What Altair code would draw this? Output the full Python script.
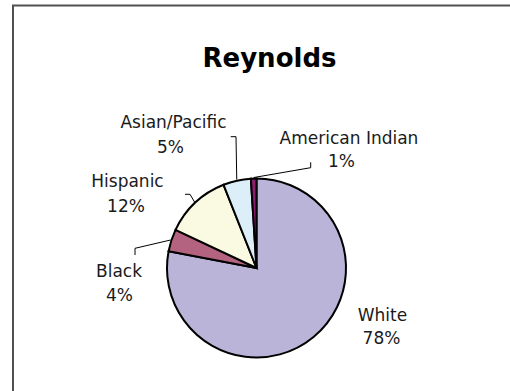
import math
import altair as alt
import pandas as pd

# ---- data ----
categories = ["White", "Black", "Hispanic", "Asian/Pacific", "American Indian"]
values = [78, 4, 12, 5, 1]
title_text = "Reynolds"

# ---- styles / layout ----
colors = ["#BAB5D8", "#B3627F", "#FAF9E2", "#DCEEF8", "#8E1F6E"]
CX, CY, R = 256.5, 268.0, 90.5
name_pos = [(382.5, 320.5), (119, 277), (127.5, 187), (173.5, 128), (349, 143.5)]
pct_pos = [(381.5, 344), (119.5, 300.5), (126, 212), (170.5, 153), (341.5, 167)]
leader_bend = [None, (135, 248.3), (190, 194.3), (236, 136.7), (310.7, 167.7)]
leader_end = [None, (135, 255), (185, 194.3), (230.7, 136.7), (310.7, 162.3)]

total = sum(values)
pie_df = pd.DataFrame({"cat": categories, "value": values, "idx": list(range(len(values)))})

# leader lines start on the pie edge at each slice's mid angle
rows = []
cum = 0
for i, (c, v) in enumerate(zip(categories, values)):
    mid = (cum + v / 2) / total * 2 * math.pi
    cum += v
    if leader_bend[i] is None:
        continue
    ex = CX + R * math.sin(mid)
    ey = CY - R * math.cos(mid)
    pts = [(ex, ey), leader_bend[i], leader_end[i]]
    for k, (px, py) in enumerate(pts):
        rows.append({"cat": c, "k": k, "x": px, "y": py})
lead_df = pd.DataFrame(rows)

lab_rows = []
for i, (c, v) in enumerate(zip(categories, values)):
    lab_rows.append({"t": c, "x": name_pos[i][0], "y": name_pos[i][1]})
    lab_rows.append({"t": f"{v}%", "x": pct_pos[i][0], "y": pct_pos[i][1]})
lab_df = pd.DataFrame(lab_rows)

frame = alt.Chart(pd.DataFrame({"a": [0]})).mark_rect(
    fill=None, stroke="#505050", strokeWidth=2
).encode(x=alt.value(13), y=alt.value(5.5), x2=alt.value(700), y2=alt.value(700))

pie = alt.Chart(pie_df).mark_arc(
    outerRadius=R - 1, stroke="black", strokeWidth=2
).encode(
    theta=alt.Theta("value:Q", stack=True),
    color=alt.Color("cat:N", scale=alt.Scale(domain=categories, range=colors), legend=None),
    order=alt.Order("idx:Q"),
    x=alt.value(CX),
    y=alt.value(CY),
)

leaders = alt.Chart(lead_df).mark_line(color="black", strokeWidth=1).encode(
    x=alt.X("x:Q", scale=None, axis=None),
    y=alt.Y("y:Q", scale=None, axis=None),
    detail="cat:N",
    order="k:Q",
)

labels = alt.Chart(lab_df).mark_text(
    font="DejaVu Sans", fontSize=17, color="#1a1a1a", align="center", baseline="alphabetic"
).encode(
    x=alt.X("x:Q", scale=None, axis=None),
    y=alt.Y("y:Q", scale=None, axis=None),
    text="t:N",
)

title = alt.Chart(pd.DataFrame({"t": [title_text]})).mark_text(
    font="DejaVu Sans", fontSize=26, fontWeight="bold", color="black",
    align="center", baseline="alphabetic"
).encode(x=alt.value(269.5), y=alt.value(67), text="t:N")

chart = alt.layer(frame, pie, leaders, labels, title).properties(
    width=510, height=391, autosize=alt.AutoSizeParams(type="none"), padding=0,
    background="white"
).configure_view(stroke=None)

chart.save("out.html", embed_options={"renderer": "svg", "actions": False})
